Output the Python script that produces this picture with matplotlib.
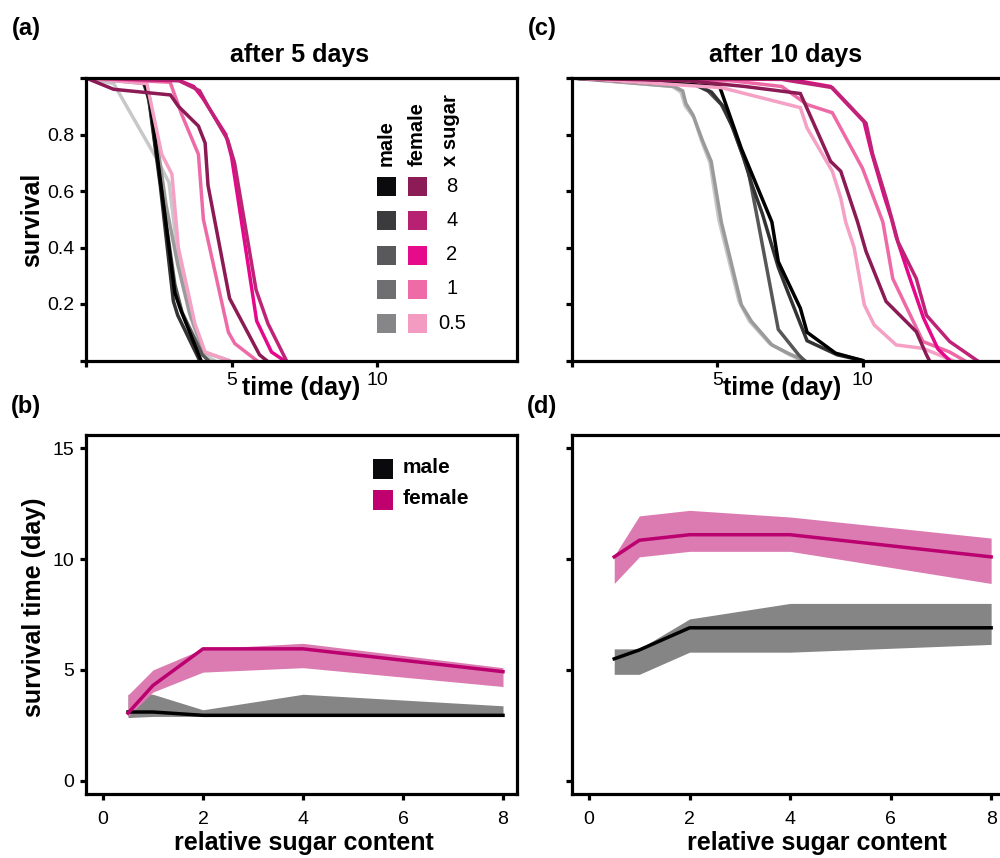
"""
Survival curves of male / female flies on diets with different sugar content
(a)/(c): survival over time, (b)/(d): survival time vs relative sugar content
"""

import matplotlib
matplotlib.use("Agg")
import matplotlib.pyplot as plt
from matplotlib.patches import Rectangle
import numpy as np

plt.rcParams["font.family"] = ["Liberation Sans", "DejaVu Sans"]

W, H = 1000, 858

# ---- survival curves, after 5 days: (day, survival) ----
a_male_8 = [(0, 1.0), (2.0, 0.99), (2.2, 0.92), (2.6, 0.6), (3.05, 0.24), (3.25, 0.18), (3.95, 0.0)]
a_male_4 = [(0, 1.0), (1.95, 0.99), (2.15, 0.93), (2.55, 0.62), (3.0, 0.21), (3.15, 0.16), (3.9, 0.0)]
a_male_2 = [(0, 1.0), (2.0, 0.99), (2.2, 0.9), (2.62, 0.58), (3.05, 0.27), (3.3, 0.17), (4.0, 0.02), (4.2, 0.0)]
a_male_1 = [(0, 1.0), (2.05, 0.98), (2.35, 0.84), (2.75, 0.55), (3.15, 0.34), (3.55, 0.17), (4.05, 0.03), (4.9, 0.0)]
a_male_05 = [(0, 1.0), (0.95, 0.98), (2.45, 0.71), (2.85, 0.63), (3.1, 0.42), (3.6, 0.15), (4.05, 0.02), (4.4, 0.0)]
a_female_8 = [(0, 1.0), (0.95, 0.96), (2.9, 0.94), (3.17, 0.9), (3.86, 0.83), (4.09, 0.77), (4.19, 0.62),
              (4.93, 0.22), (5.96, 0.02), (6.2, 0.0)]
a_female_4 = [(0, 1.0), (3.2, 0.99), (3.9, 0.955), (4.19, 0.9), (4.87, 0.78), (5.1, 0.7), (5.84, 0.25),
              (6.25, 0.13), (6.88, 0.0)]
a_female_2 = [(0, 1.0), (3.0, 1.0), (3.7, 0.97), (4.0, 0.93), (4.8, 0.8), (5.0, 0.72), (5.55, 0.35),
              (5.86, 0.14), (6.37, 0.03), (6.8, 0.0)]
a_female_1 = [(0, 1.0), (2.89, 0.985), (3.29, 0.87), (3.86, 0.73), (4.03, 0.5), (4.89, 0.1), (5.11, 0.06),
              (5.86, 0.0)]
a_female_05 = [(0, 1.0), (2.09, 0.98), (2.6, 0.73), (2.95, 0.66), (3.17, 0.4), (3.74, 0.13), (4.09, 0.03),
               (4.9, 0.0)]

# ---- survival curves, after 10 days ----
c_male_8 = [(0, 1.0), (5.08, 0.97), (5.83, 0.75), (6.88, 0.49), (7.1, 0.35), (7.86, 0.185), (8.09, 0.1),
            (9.07, 0.026), (10.0, 0.0)]
c_male_4 = [(0, 1.0), (4.3, 0.975), (4.8, 0.95), (5.2, 0.9), (5.55, 0.82), (5.9, 0.72), (6.2, 0.62),
            (6.55, 0.52), (7.1, 0.33), (7.4, 0.25), (8.09, 0.07), (9.13, 0.02), (10.0, 0.0)]
c_male_2 = [(0, 1.0), (4.21, 0.977), (4.68, 0.954), (5.14, 0.906), (5.49, 0.835), (5.83, 0.74), (6.07, 0.67),
            (6.35, 0.52), (7.1, 0.11), (7.8, 0.02), (8.0, 0.0)]
c_male_1 = [(0, 1.0), (3.52, 0.97), (3.81, 0.954), (3.92, 0.91), (4.16, 0.87), (4.5, 0.776), (4.79, 0.705),
            (5.14, 0.49), (5.83, 0.197), (6.18, 0.138), (6.88, 0.055), (7.45, 0.025), (8.0, 0.0)]
c_male_05 = [(0, 1.0), (3.45, 0.97), (3.75, 0.95), (3.9, 0.9), (4.2, 0.86), (4.45, 0.78), (4.75, 0.7),
             (5.05, 0.5), (5.75, 0.21), (6.1, 0.14), (6.8, 0.06), (7.5, 0.02), (7.9, 0.0)]
c_female_8 = [(0, 1.0), (3.98, 0.99), (5.95, 0.97), (7.86, 0.945), (8.9, 0.705), (9.25, 0.67), (9.83, 0.49),
              (10.12, 0.386), (10.81, 0.209), (11.85, 0.102), (12.2, 0.02), (12.3, 0.0)]
c_female_4 = [(0, 1.0), (7.22, 0.995), (8.96, 0.966), (10.12, 0.84), (10.35, 0.73), (10.81, 0.575),
              (11.04, 0.49), (11.22, 0.42), (11.85, 0.29), (12.2, 0.16), (13.0, 0.067), (13.94, 0.0)]
c_female_2 = [(0, 1.0), (7.22, 1.0), (8.9, 0.97), (10.05, 0.845), (10.3, 0.74), (10.75, 0.58), (11.0, 0.5),
              (11.15, 0.44), (11.6, 0.3), (12.1, 0.15), (12.6, 0.04), (13.0, 0.0)]
c_female_1 = [(0, 1.0), (5.5, 0.99), (7.22, 0.97), (8.09, 0.906), (8.96, 0.877), (10.0, 0.68), (10.7, 0.49),
              (11.04, 0.29), (12.08, 0.067), (13.0, 0.03), (13.5, 0.0)]
c_female_05 = [(0, 1.0), (5.14, 0.966), (7.86, 0.895), (8.09, 0.823), (8.96, 0.67), (9.25, 0.575),
               (9.42, 0.49), (9.71, 0.4), (10.06, 0.197), (10.4, 0.126), (11.16, 0.055), (12.08, 0.043),
               (13.1, 0.0)]

sugar_labels = ["8", "4", "2", "1", "0.5"]
male_line_colors = ["#000000", "#333333", "#575757", "#9a9a9a", "#c8c8c8"]
female_line_colors = ["#8b1a55", "#bf2377", "#e6088b", "#ee6aa6", "#f5a0c5"]
male_key_colors = ["#0b0b0d", "#3b3b3d", "#59595b", "#6f6f71", "#868688"]
female_key_colors = ["#8b1c56", "#b72171", "#e50b8b", "#ef6ba7", "#f49bc2"]

# ---- survival time vs relative sugar content ----
sugar = [0.5, 1, 2, 4, 8]
b_male_mean = [3.1, 3.1, 2.95, 2.95, 2.95]
b_male_lo = [2.85, 2.9, 2.9, 2.9, 2.9]
b_male_hi = [3.9, 3.9, 3.2, 3.9, 3.38]
b_female_mean = [3.05, 4.3, 5.95, 5.95, 4.92]
b_female_lo = [2.9, 4.0, 4.9, 5.1, 4.25]
b_female_hi = [3.87, 5.0, 5.95, 6.2, 5.1]

d_male_mean = [5.5, 5.9, 6.9, 6.9, 6.9]
d_male_lo = [4.8, 4.8, 5.8, 5.8, 6.15]
d_male_hi = [5.95, 5.95, 7.3, 8.0, 8.0]
d_female_mean = [10.1, 10.85, 11.1, 11.1, 10.1]
d_female_lo = [8.9, 10.1, 10.35, 10.35, 8.9]
d_female_hi = [10.15, 11.95, 12.2, 11.9, 10.95]


def rect(l, t, r, b):
    """pixel box -> figure fraction [left, bottom, width, height]"""
    return [l / W, 1 - b / H, (r - l) / W, (b - t) / H]


def ftext(fig, x, y, s, **kw):
    fig.text(x / W, 1 - y / H, s, **kw)


def style_axes(ax, xpad=4):
    for sp in ax.spines.values():
        sp.set_linewidth(2.3)
    ax.tick_params(width=2.3, length=4.5, labelsize=14, pad=4, direction="out")
    ax.tick_params(axis="x", pad=xpad)


def survival_panel(ax, curves, show_ylabels):
    for (pts, col) in curves:
        t = [p[0] for p in pts]
        s = [p[1] for p in pts]
        ax.plot(t, s, color=col, lw=2.5, solid_joinstyle="miter")
    ax.set_xlim(0, 14.8)
    ax.set_ylim(0, 1)
    ax.set_xticks([0, 5, 10])
    ax.set_xticklabels(["", "5", "10"])
    ax.set_yticks([0, 0.2, 0.4, 0.6, 0.8, 1.0])
    if show_ylabels:
        ax.set_yticklabels(["", "0.2", "0.4", "0.6", "0.8", ""])
    else:
        ax.set_yticklabels([])
    style_axes(ax)


def sugar_panel(ax, m_mean, m_lo, m_hi, f_mean, f_lo, f_hi, show_ylabels, xmax):
    ax.fill_between(sugar, m_lo, m_hi, color="#858585", lw=0)
    ax.fill_between(sugar, f_lo, f_hi, color="#db7bb1", lw=0)
    ax.plot(sugar, m_mean, color="black", lw=2.5)
    ax.plot(sugar, f_mean, color="#bb006f", lw=2.5)
    ax.set_xlim(-0.34, xmax)
    ax.set_ylim(-0.6, 15.6)
    ax.set_xticks([0, 2, 4, 6, 8])
    ax.set_yticks([0, 5, 10, 15])
    if not show_ylabels:
        ax.set_yticklabels([])
    style_axes(ax, xpad=8)


fig = plt.figure(figsize=(W / 100, H / 100), dpi=100)

ax_a = fig.add_axes(rect(86, 78, 517, 360.5))
ax_c = fig.add_axes(rect(572, 78, 1002, 360.5))
ax_b = fig.add_axes(rect(86, 435, 517, 794))
ax_d = fig.add_axes(rect(572, 435, 1062, 794))

survival_panel(ax_a,
               list(zip([a_male_05, a_male_1, a_male_2, a_male_4, a_male_8], male_line_colors[::-1]))
               + list(zip([a_female_05, a_female_1, a_female_2, a_female_4, a_female_8], female_line_colors[::-1])),
               True)
survival_panel(ax_c,
               list(zip([c_male_05, c_male_1, c_male_2, c_male_4, c_male_8], male_line_colors[::-1]))
               + list(zip([c_female_05, c_female_1, c_female_2, c_female_4, c_female_8], female_line_colors[::-1])),
               False)
sugar_panel(ax_b, b_male_mean, b_male_lo, b_male_hi, b_female_mean, b_female_lo, b_female_hi, True, 8.28)
sugar_panel(ax_d, d_male_mean, d_male_lo, d_male_hi, d_female_mean, d_female_lo, d_female_hi, False, 9.41)

bold = dict(fontweight="bold", fontsize=18)

# panel letters and titles
ftext(fig, 26, 28, "(a)", ha="center", va="center", fontweight="bold", fontsize=17)
ftext(fig, 542, 28, "(c)", ha="center", va="center", fontweight="bold", fontsize=17)
ftext(fig, 26, 407, "(b)", ha="center", va="center", fontweight="bold", fontsize=17)
ftext(fig, 542, 407, "(d)", ha="center", va="center", fontweight="bold", fontsize=17)
ftext(fig, 300, 55, "after 5 days", ha="center", va="center", **bold)
ftext(fig, 786, 55, "after 10 days", ha="center", va="center", **bold)

# axis labels
ftext(fig, 301, 388, "time (day)", ha="center", va="center", **bold)
ftext(fig, 782, 388, "time (day)", ha="center", va="center", **bold)
ftext(fig, 32, 220, "survival", ha="center", va="center", rotation=90, **bold)
ftext(fig, 34, 607, "survival time (day)", ha="center", va="center", rotation=90, **bold)
ftext(fig, 304, 843, "relative sugar content", ha="center", va="center", **bold)
ftext(fig, 817, 843, "relative sugar content", ha="center", va="center", **bold)

# colour key in panel (a)
key = dict(fontweight="bold", fontsize=14.5)
ftext(fig, 386, 166, "male", ha="center", va="bottom", rotation=90, **key)
ftext(fig, 417, 166, "female", ha="center", va="bottom", rotation=90, **key)
ftext(fig, 450, 166, "x sugar", ha="center", va="bottom", rotation=90, **key)
row_y = [186, 220, 255, 289, 323]
sq = 19
for i, lab in enumerate(sugar_labels):
    y = row_y[i]
    fig.patches.append(Rectangle(((386 - sq / 2) / W, 1 - (y + sq / 2) / H), sq / W, sq / H,
                                 transform=fig.transFigure, color=male_key_colors[i], lw=0))
    fig.patches.append(Rectangle(((417 - sq / 2) / W, 1 - (y + sq / 2) / H), sq / W, sq / H,
                                 transform=fig.transFigure, color=female_key_colors[i], lw=0))
    ftext(fig, 452, y, lab, ha="center", va="center", fontsize=14.5)

# key in panel (b)
for y, col, lab in [(469, "#0a0a0c", "male"), (500, "#c0006f", "female")]:
    fig.patches.append(Rectangle((373 / W, 1 - (y + 10) / H), 20 / W, 20 / H,
                                 transform=fig.transFigure, color=col, lw=0))
    ftext(fig, 403, y - 2, lab, ha="left", va="center", fontweight="bold", fontsize=15)

fig.savefig("out.png", dpi=100)
